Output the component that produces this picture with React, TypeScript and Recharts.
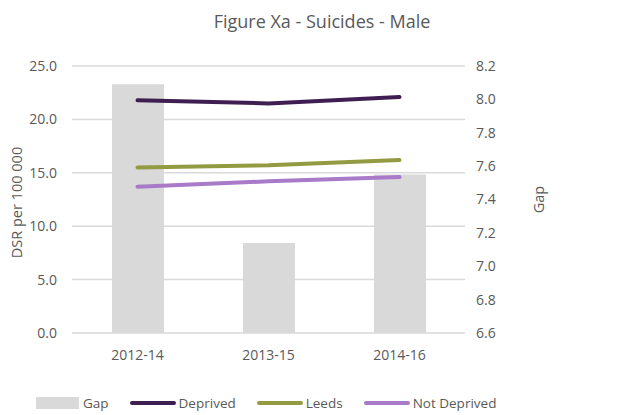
import {
  ComposedChart,
  Bar,
  Line,
  XAxis,
  YAxis,
  CartesianGrid,
} from "recharts";

const periods = ["2012-14", "2013-15", "2014-16"];
const gap = [8.09, 7.14, 7.55];
const deprived = [21.8, 21.5, 22.1];
const leeds = [15.5, 15.7, 16.2];
const notDeprived = [13.7, 14.2, 14.6];

const leftTicks = [0, 5, 10, 15, 20, 25];
const rightTicks = [6.6, 6.8, 7.0, 7.2, 7.4, 7.6, 7.8, 8.0, 8.2];

const FONT = "'Open Sans', sans-serif";
const TEXT = "#595959";

const lineSeries = [
  { key: "deprived", name: "Deprived", color: "#3f1f52" },
  { key: "leeds", name: "Leeds", color: "#939b42" },
  { key: "notDeprived", name: "Not Deprived", color: "#a87ac8" },
];

export default function App() {
  const data = periods.map((p, i) => ({
    period: p,
    gap: gap[i],
    deprived: deprived[i],
    leeds: leeds[i],
    notDeprived: notDeprived[i],
  }));

  const tick = { fill: TEXT, fontSize: 14, fontFamily: FONT };

  return (
    <div
      style={{
        position: "absolute",
        left: 0,
        top: 0,
        width: 620,
        height: 415,
        background: "#fff",
        fontFamily: FONT,
      }}
    >
      <div
        style={{
          position: "absolute",
          top: 9,
          left: 0,
          width: 644,
          textAlign: "center",
          fontSize: 18,
          color: TEXT,
        }}
      >
        Figure Xa - Suicides - Male
      </div>
      <ComposedChart
        width={620}
        height={415}
        data={data}
        margin={{ top: 66, right: 0, bottom: 0, left: 0 }}
      >
        <CartesianGrid
          yAxisId="left"
          vertical={false}
          stroke="#d9d9d9"
          strokeWidth={1.5}
        />
        <XAxis
          dataKey="period"
          height={82}
          axisLine={false}
          tickLine={false}
          tick={tick}
          tickMargin={11}
        />
        <YAxis
          yAxisId="left"
          orientation="left"
          width={72}
          domain={[0, 25]}
          ticks={leftTicks}
          tickFormatter={(v: number) => v.toFixed(1)}
          axisLine={false}
          tickLine={false}
          tick={tick}
          tickMargin={9}
          label={{
            value: "DSR per 100 000",
            angle: -90,
            position: "center",
            dx: -19,
            dy: 3,
            fill: TEXT,
            fontSize: 14.5,
            fontFamily: FONT,
          }}
        />
        <YAxis
          yAxisId="right"
          orientation="right"
          width={155}
          domain={[6.6, 8.2]}
          ticks={rightTicks}
          tickFormatter={(v: number) => v.toFixed(1)}
          axisLine={false}
          tickLine={false}
          tick={tick}
          tickMargin={5}
          label={{
            value: "Gap",
            angle: -90,
            position: "center",
            dx: -4,
            fill: TEXT,
            fontSize: 14.5,
            fontFamily: FONT,
          }}
        />
        <Bar
          yAxisId="right"
          dataKey="gap"
          name="Gap"
          fill="#d9d9d9"
          barSize={52}
          isAnimationActive={false}
        />
        {lineSeries.map((s) => (
          <Line
            key={s.key}
            yAxisId="left"
            type="linear"
            dataKey={s.key}
            name={s.name}
            stroke={s.color}
            strokeWidth={4}
            strokeLinecap="round"
            dot={false}
            activeDot={false}
            isAnimationActive={false}
          />
        ))}
      </ComposedChart>
      <div
        style={{
          position: "absolute",
          left: 36,
          top: 394,
          display: "flex",
          alignItems: "center",
          gap: 21,
          fontSize: 13.5,
          color: TEXT,
          whiteSpace: "nowrap",
        }}
      >
        <div style={{ display: "flex", alignItems: "center", gap: 4 }}>
          <span
            style={{
              display: "inline-block",
              width: 43,
              height: 12,
              background: "#d9d9d9",
            }}
          />
          <span>Gap</span>
        </div>
        {lineSeries.map((s) => (
          <div
            key={s.key}
            style={{ display: "flex", alignItems: "center", gap: 3 }}
          >
            <span
              style={{
                display: "inline-block",
                width: 46,
                height: 4,
                borderRadius: 2,
                background: s.color,
              }}
            />
            <span>{s.name}</span>
          </div>
        ))}
      </div>
    </div>
  );
}
